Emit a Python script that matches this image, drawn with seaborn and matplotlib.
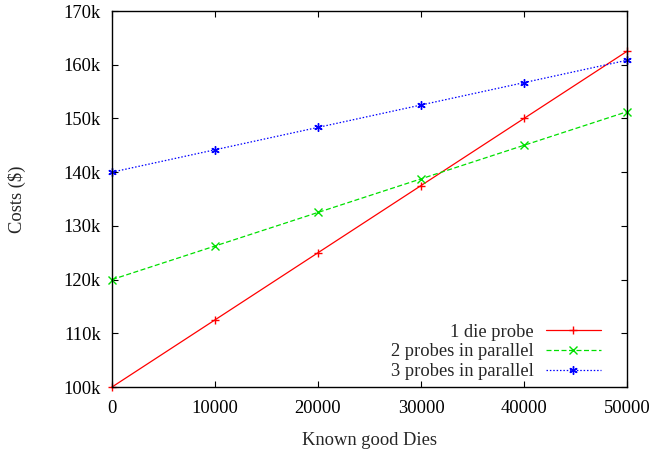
import numpy as np
import pandas as pd
import matplotlib
matplotlib.use("Agg")
import matplotlib.pyplot as plt
import seaborn as sns
from matplotlib.ticker import FuncFormatter

known_good_dies = [0, 10000, 20000, 30000, 40000, 50000]
one_die = [100000, 112500, 125000, 137500, 150000, 162500]
two_probes = [120000, 126250, 132500, 138750, 145000, 151250]
three_probes = [140000, 144167, 148333, 152500, 156667, 160833]
series_names = ["1 die probe", "2 probes in parallel", "3 probes in parallel"]
y_ticks = [100000, 110000, 120000, 130000, 140000, 150000, 160000, 170000]
x_ticks = [0, 10000, 20000, 30000, 40000, 50000]

df = pd.DataFrame({
    "x": known_good_dies * 3,
    "y": one_die + two_probes + three_probes,
    "series": sum([[n] * len(known_good_dies) for n in series_names], []),
})

sns.set_style("white")
plt.rcParams['font.family'] = ['Liberation Serif', 'DejaVu Serif']

FS = 13.3
fig = plt.figure(figsize=(6.52, 4.51), dpi=100)
ax = fig.add_axes([0.1718, 0.1419, 0.7899, 0.8337])

palette = {"1 die probe": "#ff0000", "2 probes in parallel": "#00e000", "3 probes in parallel": "#0000ff"}
dashes = {"1 die probe": "", "2 probes in parallel": (4, 2), "3 probes in parallel": (1.2, 1.5)}
markers = {"1 die probe": "+", "2 probes in parallel": "x", "3 probes in parallel": (6, 2, 0)}

sns.lineplot(data=df, x="x", y="y", hue="series", style="series",
             palette=palette, dashes=dashes, markers=markers,
             linewidth=0.9, markersize=6, ax=ax, legend="full")

for ln in ax.lines:
    ln.set_markeredgecolor(ln.get_color())
    ln.set_markeredgewidth(1.0)
    ln.set_clip_on(False)

ax.set_xlim(0, 50000)
ax.set_ylim(100000, 170000)
ax.set_xticks(x_ticks)
ax.set_yticks(y_ticks)
ax.yaxis.set_major_formatter(FuncFormatter(lambda v, p: f"{int(round(v/1000))}k"))
ax.tick_params(direction="in", length=4, width=0.8, labelsize=FS, colors="black",
               top=True, right=True, bottom=True, left=True)
ax.tick_params(axis="y", pad=8)
ax.tick_params(axis="x", pad=9)
for s in ax.spines.values():
    s.set_color("black")
    s.set_linewidth(1.0)

ax.set_xlabel("Known good Dies", fontsize=FS, labelpad=11)
ax.set_ylabel("Costs ($)", fontsize=FS, labelpad=27)

leg = ax.legend(frameon=False, loc="lower right", markerfirst=False, fontsize=FS,
                handlelength=3.0, borderaxespad=0.0, borderpad=0.0,
                labelspacing=0.15, handletextpad=0.65,
                bbox_to_anchor=(0.9495, 0.018))
for col in leg._legend_handle_box.get_children():
    col.align = "right"
for h in leg.legend_handles:
    h.set_markeredgecolor(h.get_color())
    h.set_markeredgewidth(1.0)

fig.savefig("out.png", dpi=100)
